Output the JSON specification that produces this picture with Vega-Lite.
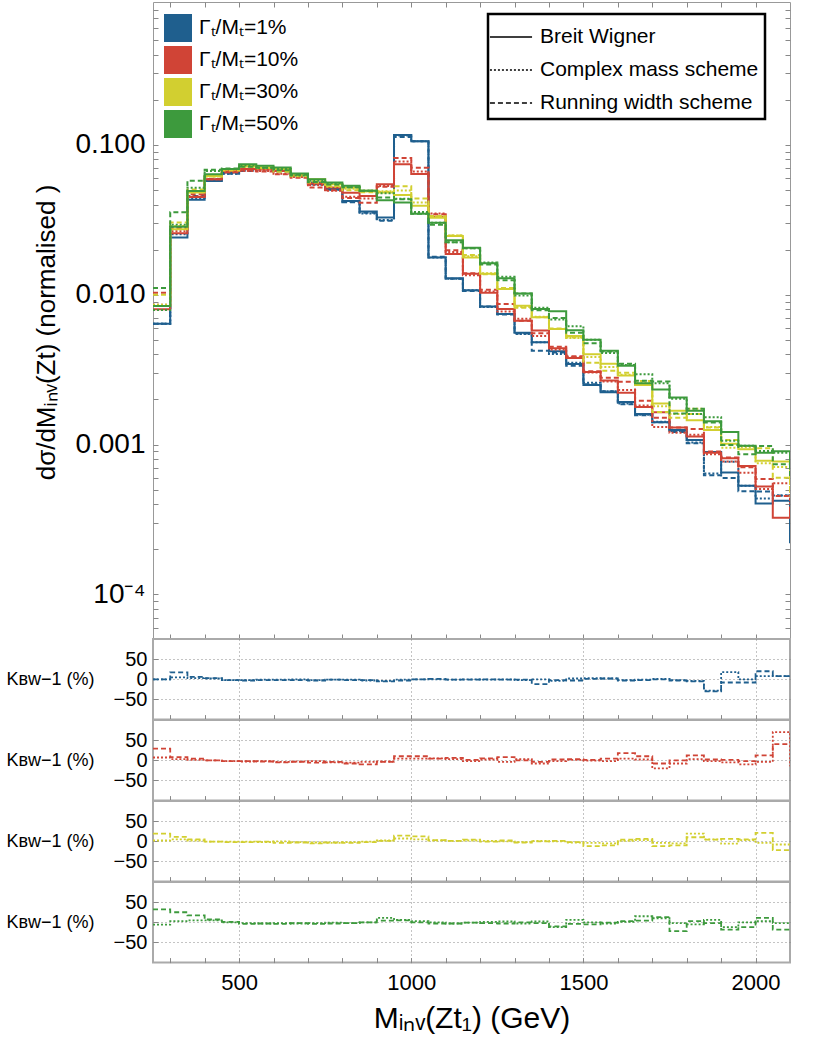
{
"$schema": "https://vega.github.io/schema/vega-lite/v6.json",
"padding": {"left": 5, "top": 1, "right": 5, "bottom": 5},
"background": "white",
"bounds": "flush",
"config": {
  "font": "Liberation Sans",
  "view": {"stroke": "#999999", "strokeWidth": 1},
  "axis": {"labelFont": "Liberation Sans", "titleFont": "Liberation Sans", "titleFontWeight": "normal", "labelColor": "black", "titleColor": "black", "tickColor": "#888888", "domain": false, "labelOverlap": false, "labelBound": false, "labelFlush": false},
  "legend": {"labelFont": "Liberation Sans", "labelColor": "black", "labelLimit": 400}
},
"resolve": {"legend": {"color": "independent", "strokeDash": "independent"}},
"spacing": 0,
"datasets": {
"main": [
{"w":"1%","s":"BW","x":250,"y":0.0064},{"w":"1%","s":"BW","x":300,"y":0.0241},{"w":"1%","s":"BW","x":350,"y":0.043},{"w":"1%","s":"BW","x":400,"y":0.0575},{"w":"1%","s":"BW","x":450,"y":0.0654},{"w":"1%","s":"BW","x":500,"y":0.069},{"w":"1%","s":"BW","x":550,"y":0.070},{"w":"1%","s":"BW","x":600,"y":0.0678},{"w":"1%","s":"BW","x":650,"y":0.0637},{"w":"1%","s":"BW","x":700,"y":0.0561},{"w":"1%","s":"BW","x":750,"y":0.0507},{"w":"1%","s":"BW","x":800,"y":0.0423},{"w":"1%","s":"BW","x":850,"y":0.036},{"w":"1%","s":"BW","x":900,"y":0.0328},{"w":"1%","s":"BW","x":950,"y":0.1166},{"w":"1%","s":"BW","x":1000,"y":0.106},{"w":"1%","s":"BW","x":1050,"y":0.0177},{"w":"1%","s":"BW","x":1100,"y":0.0129},{"w":"1%","s":"BW","x":1150,"y":0.0107},{"w":"1%","s":"BW","x":1200,"y":0.00836},{"w":"1%","s":"BW","x":1250,"y":0.00744},{"w":"1%","s":"BW","x":1300,"y":0.00558},{"w":"1%","s":"BW","x":1350,"y":0.00481},{"w":"1%","s":"BW","x":1400,"y":0.00419},{"w":"1%","s":"BW","x":1450,"y":0.00345},{"w":"1%","s":"BW","x":1500,"y":0.0025},{"w":"1%","s":"BW","x":1550,"y":0.00223},{"w":"1%","s":"BW","x":1600,"y":0.00192},{"w":"1%","s":"BW","x":1650,"y":0.0016},{"w":"1%","s":"BW","x":1700,"y":0.00141},{"w":"1%","s":"BW","x":1750,"y":0.00125},{"w":"1%","s":"BW","x":1800,"y":0.00107},{"w":"1%","s":"BW","x":1850,"y":0.00089},{"w":"1%","s":"BW","x":1900,"y":0.00065},{"w":"1%","s":"BW","x":1950,"y":0.00053},{"w":"1%","s":"BW","x":2000,"y":0.000404},{"w":"1%","s":"BW","x":2050,"y":0.000422},{"w":"1%","s":"BW","x":2100,"y":0.000219},
{"w":"1%","s":"CMS","x":250,"y":0.0064},{"w":"1%","s":"CMS","x":300,"y":0.0253},{"w":"1%","s":"CMS","x":350,"y":0.0443},{"w":"1%","s":"CMS","x":400,"y":0.0587},{"w":"1%","s":"CMS","x":450,"y":0.0641},{"w":"1%","s":"CMS","x":500,"y":0.0676},{"w":"1%","s":"CMS","x":550,"y":0.0693},{"w":"1%","s":"CMS","x":600,"y":0.0671},{"w":"1%","s":"CMS","x":650,"y":0.0637},{"w":"1%","s":"CMS","x":700,"y":0.055},{"w":"1%","s":"CMS","x":750,"y":0.0502},{"w":"1%","s":"CMS","x":800,"y":0.0419},{"w":"1%","s":"CMS","x":850,"y":0.0349},{"w":"1%","s":"CMS","x":900,"y":0.0315},{"w":"1%","s":"CMS","x":950,"y":0.1154},{"w":"1%","s":"CMS","x":1000,"y":0.106},{"w":"1%","s":"CMS","x":1050,"y":0.0177},{"w":"1%","s":"CMS","x":1100,"y":0.0128},{"w":"1%","s":"CMS","x":1150,"y":0.0107},{"w":"1%","s":"CMS","x":1200,"y":0.00828},{"w":"1%","s":"CMS","x":1250,"y":0.00744},{"w":"1%","s":"CMS","x":1300,"y":0.00547},{"w":"1%","s":"CMS","x":1350,"y":0.00481},{"w":"1%","s":"CMS","x":1400,"y":0.00402},{"w":"1%","s":"CMS","x":1450,"y":0.00352},{"w":"1%","s":"CMS","x":1500,"y":0.00258},{"w":"1%","s":"CMS","x":1550,"y":0.00227},{"w":"1%","s":"CMS","x":1600,"y":0.00188},{"w":"1%","s":"CMS","x":1650,"y":0.00158},{"w":"1%","s":"CMS","x":1700,"y":0.00142},{"w":"1%","s":"CMS","x":1750,"y":0.00123},{"w":"1%","s":"CMS","x":1800,"y":0.00103},{"w":"1%","s":"CMS","x":1850,"y":0.00064},{"w":"1%","s":"CMS","x":1900,"y":0.000767},{"w":"1%","s":"CMS","x":1950,"y":0.00053},{"w":"1%","s":"CMS","x":2000,"y":0.000436},{"w":"1%","s":"CMS","x":2050,"y":0.000456},{"w":"1%","s":"CMS","x":2100,"y":0.000225},
{"w":"1%","s":"RW","x":250,"y":0.0064},{"w":"1%","s":"RW","x":300,"y":0.0282},{"w":"1%","s":"RW","x":350,"y":0.0456},{"w":"1%","s":"RW","x":400,"y":0.0592},{"w":"1%","s":"RW","x":450,"y":0.0641},{"w":"1%","s":"RW","x":500,"y":0.0669},{"w":"1%","s":"RW","x":550,"y":0.0686},{"w":"1%","s":"RW","x":600,"y":0.0664},{"w":"1%","s":"RW","x":650,"y":0.0624},{"w":"1%","s":"RW","x":700,"y":0.0544},{"w":"1%","s":"RW","x":750,"y":0.0502},{"w":"1%","s":"RW","x":800,"y":0.0415},{"w":"1%","s":"RW","x":850,"y":0.0353},{"w":"1%","s":"RW","x":900,"y":0.0312},{"w":"1%","s":"RW","x":950,"y":0.1131},{"w":"1%","s":"RW","x":1000,"y":0.106},{"w":"1%","s":"RW","x":1050,"y":0.0179},{"w":"1%","s":"RW","x":1100,"y":0.0128},{"w":"1%","s":"RW","x":1150,"y":0.0106},{"w":"1%","s":"RW","x":1200,"y":0.00836},{"w":"1%","s":"RW","x":1250,"y":0.00737},{"w":"1%","s":"RW","x":1300,"y":0.00552},{"w":"1%","s":"RW","x":1350,"y":0.00423},{"w":"1%","s":"RW","x":1400,"y":0.00411},{"w":"1%","s":"RW","x":1450,"y":0.00335},{"w":"1%","s":"RW","x":1500,"y":0.00253},{"w":"1%","s":"RW","x":1550,"y":0.00227},{"w":"1%","s":"RW","x":1600,"y":0.00186},{"w":"1%","s":"RW","x":1650,"y":0.00157},{"w":"1%","s":"RW","x":1700,"y":0.00141},{"w":"1%","s":"RW","x":1750,"y":0.00121},{"w":"1%","s":"RW","x":1800,"y":0.00102},{"w":"1%","s":"RW","x":1850,"y":0.000623},{"w":"1%","s":"RW","x":1900,"y":0.000598},{"w":"1%","s":"RW","x":1950,"y":0.000488},{"w":"1%","s":"RW","x":2000,"y":0.000485},{"w":"1%","s":"RW","x":2050,"y":0.000456},{"w":"1%","s":"RW","x":2100,"y":0.00023},
{"w":"10%","s":"BW","x":250,"y":0.008},{"w":"10%","s":"BW","x":300,"y":0.0257},{"w":"10%","s":"BW","x":350,"y":0.045},{"w":"10%","s":"BW","x":400,"y":0.059},{"w":"10%","s":"BW","x":450,"y":0.067},{"w":"10%","s":"BW","x":500,"y":0.069},{"w":"10%","s":"BW","x":550,"y":0.0685},{"w":"10%","s":"BW","x":600,"y":0.067},{"w":"10%","s":"BW","x":650,"y":0.063},{"w":"10%","s":"BW","x":700,"y":0.0552},{"w":"10%","s":"BW","x":750,"y":0.052},{"w":"10%","s":"BW","x":800,"y":0.048},{"w":"10%","s":"BW","x":850,"y":0.0457},{"w":"10%","s":"BW","x":900,"y":0.0547},{"w":"10%","s":"BW","x":950,"y":0.0744},{"w":"10%","s":"BW","x":1000,"y":0.064},{"w":"10%","s":"BW","x":1050,"y":0.0331},{"w":"10%","s":"BW","x":1100,"y":0.0187},{"w":"10%","s":"BW","x":1150,"y":0.0138},{"w":"10%","s":"BW","x":1200,"y":0.0103},{"w":"10%","s":"BW","x":1250,"y":0.00804},{"w":"10%","s":"BW","x":1300,"y":0.0067},{"w":"10%","s":"BW","x":1350,"y":0.00576},{"w":"10%","s":"BW","x":1400,"y":0.0044},{"w":"10%","s":"BW","x":1450,"y":0.00378},{"w":"10%","s":"BW","x":1500,"y":0.00305},{"w":"10%","s":"BW","x":1550,"y":0.00268},{"w":"10%","s":"BW","x":1600,"y":0.00222},{"w":"10%","s":"BW","x":1650,"y":0.00178},{"w":"10%","s":"BW","x":1700,"y":0.00164},{"w":"10%","s":"BW","x":1750,"y":0.0013},{"w":"10%","s":"BW","x":1800,"y":0.00113},{"w":"10%","s":"BW","x":1850,"y":0.00088},{"w":"10%","s":"BW","x":1900,"y":0.00081},{"w":"10%","s":"BW","x":1950,"y":0.00072},{"w":"10%","s":"BW","x":2000,"y":0.000525},{"w":"10%","s":"BW","x":2050,"y":0.000324},{"w":"10%","s":"BW","x":2100,"y":0.00038},
{"w":"10%","s":"CMS","x":250,"y":0.00856},{"w":"10%","s":"CMS","x":300,"y":0.0265},{"w":"10%","s":"CMS","x":350,"y":0.0455},{"w":"10%","s":"CMS","x":400,"y":0.059},{"w":"10%","s":"CMS","x":450,"y":0.0657},{"w":"10%","s":"CMS","x":500,"y":0.0669},{"w":"10%","s":"CMS","x":550,"y":0.0671},{"w":"10%","s":"CMS","x":600,"y":0.0643},{"w":"10%","s":"CMS","x":650,"y":0.0611},{"w":"10%","s":"CMS","x":700,"y":0.0541},{"w":"10%","s":"CMS","x":750,"y":0.0494},{"w":"10%","s":"CMS","x":800,"y":0.0451},{"w":"10%","s":"CMS","x":850,"y":0.0439},{"w":"10%","s":"CMS","x":900,"y":0.0531},{"w":"10%","s":"CMS","x":950,"y":0.0774},{"w":"10%","s":"CMS","x":1000,"y":0.0666},{"w":"10%","s":"CMS","x":1050,"y":0.0348},{"w":"10%","s":"CMS","x":1100,"y":0.0193},{"w":"10%","s":"CMS","x":1150,"y":0.0135},{"w":"10%","s":"CMS","x":1200,"y":0.0105},{"w":"10%","s":"CMS","x":1250,"y":0.00772},{"w":"10%","s":"CMS","x":1300,"y":0.0069},{"w":"10%","s":"CMS","x":1350,"y":0.0053},{"w":"10%","s":"CMS","x":1400,"y":0.00431},{"w":"10%","s":"CMS","x":1450,"y":0.00382},{"w":"10%","s":"CMS","x":1500,"y":0.00302},{"w":"10%","s":"CMS","x":1550,"y":0.00263},{"w":"10%","s":"CMS","x":1600,"y":0.00231},{"w":"10%","s":"CMS","x":1650,"y":0.00182},{"w":"10%","s":"CMS","x":1700,"y":0.00131},{"w":"10%","s":"CMS","x":1750,"y":0.0012},{"w":"10%","s":"CMS","x":1800,"y":0.00116},{"w":"10%","s":"CMS","x":1850,"y":0.000862},{"w":"10%","s":"CMS","x":1900,"y":0.00077},{"w":"10%","s":"CMS","x":1950,"y":0.000648},{"w":"10%","s":"CMS","x":2000,"y":0.000504},{"w":"10%","s":"CMS","x":2050,"y":0.000551},{"w":"10%","s":"CMS","x":2100,"y":0.00032},
{"w":"10%","s":"RW","x":250,"y":0.01032},{"w":"10%","s":"RW","x":300,"y":0.0278},{"w":"10%","s":"RW","x":350,"y":0.0468},{"w":"10%","s":"RW","x":400,"y":0.059},{"w":"10%","s":"RW","x":450,"y":0.0657},{"w":"10%","s":"RW","x":500,"y":0.0676},{"w":"10%","s":"RW","x":550,"y":0.0664},{"w":"10%","s":"RW","x":600,"y":0.0637},{"w":"10%","s":"RW","x":650,"y":0.0605},{"w":"10%","s":"RW","x":700,"y":0.0519},{"w":"10%","s":"RW","x":750,"y":0.0499},{"w":"10%","s":"RW","x":800,"y":0.0442},{"w":"10%","s":"RW","x":850,"y":0.0411},{"w":"10%","s":"RW","x":900,"y":0.0525},{"w":"10%","s":"RW","x":950,"y":0.0818},{"w":"10%","s":"RW","x":1000,"y":0.0704},{"w":"10%","s":"RW","x":1050,"y":0.0344},{"w":"10%","s":"RW","x":1100,"y":0.0198},{"w":"10%","s":"RW","x":1150,"y":0.0139},{"w":"10%","s":"RW","x":1200,"y":0.0108},{"w":"10%","s":"RW","x":1250,"y":0.00868},{"w":"10%","s":"RW","x":1300,"y":0.0067},{"w":"10%","s":"RW","x":1350,"y":0.00553},{"w":"10%","s":"RW","x":1400,"y":0.00449},{"w":"10%","s":"RW","x":1450,"y":0.00389},{"w":"10%","s":"RW","x":1500,"y":0.00308},{"w":"10%","s":"RW","x":1550,"y":0.00279},{"w":"10%","s":"RW","x":1600,"y":0.00262},{"w":"10%","s":"RW","x":1650,"y":0.00196},{"w":"10%","s":"RW","x":1700,"y":0.00151},{"w":"10%","s":"RW","x":1750,"y":0.0013},{"w":"10%","s":"RW","x":1800,"y":0.00127},{"w":"10%","s":"RW","x":1850,"y":0.000898},{"w":"10%","s":"RW","x":1900,"y":0.000818},{"w":"10%","s":"RW","x":1950,"y":0.000706},{"w":"10%","s":"RW","x":2000,"y":0.000588},{"w":"10%","s":"RW","x":2050,"y":0.000454},{"w":"10%","s":"RW","x":2100,"y":0.00042},
{"w":"30%","s":"BW","x":250,"y":0.0084},{"w":"30%","s":"BW","x":300,"y":0.0274},{"w":"30%","s":"BW","x":350,"y":0.0481},{"w":"30%","s":"BW","x":400,"y":0.0621},{"w":"30%","s":"BW","x":450,"y":0.069},{"w":"30%","s":"BW","x":500,"y":0.0725},{"w":"30%","s":"BW","x":550,"y":0.071},{"w":"30%","s":"BW","x":600,"y":0.069},{"w":"30%","s":"BW","x":650,"y":0.0637},{"w":"30%","s":"BW","x":700,"y":0.059},{"w":"30%","s":"BW","x":750,"y":0.0547},{"w":"30%","s":"BW","x":800,"y":0.052},{"w":"30%","s":"BW","x":850,"y":0.0494},{"w":"30%","s":"BW","x":900,"y":0.0481},{"w":"30%","s":"BW","x":950,"y":0.0464},{"w":"30%","s":"BW","x":1000,"y":0.0392},{"w":"30%","s":"BW","x":1050,"y":0.0326},{"w":"30%","s":"BW","x":1100,"y":0.0247},{"w":"30%","s":"BW","x":1150,"y":0.0177},{"w":"30%","s":"BW","x":1200,"y":0.0138},{"w":"30%","s":"BW","x":1250,"y":0.0109},{"w":"30%","s":"BW","x":1300,"y":0.00844},{"w":"30%","s":"BW","x":1350,"y":0.00706},{"w":"30%","s":"BW","x":1400,"y":0.0059},{"w":"30%","s":"BW","x":1450,"y":0.0053},{"w":"30%","s":"BW","x":1500,"y":0.004},{"w":"30%","s":"BW","x":1550,"y":0.00346},{"w":"30%","s":"BW","x":1600,"y":0.00289},{"w":"30%","s":"BW","x":1650,"y":0.0025},{"w":"30%","s":"BW","x":1700,"y":0.00188},{"w":"30%","s":"BW","x":1750,"y":0.00168},{"w":"30%","s":"BW","x":1800,"y":0.00145},{"w":"30%","s":"BW","x":1850,"y":0.00125},{"w":"30%","s":"BW","x":1900,"y":0.00101},{"w":"30%","s":"BW","x":1950,"y":0.00093},{"w":"30%","s":"BW","x":2000,"y":0.00078},{"w":"30%","s":"BW","x":2050,"y":0.00077},{"w":"30%","s":"BW","x":2100,"y":0.00054},
{"w":"30%","s":"CMS","x":250,"y":0.00857},{"w":"30%","s":"CMS","x":300,"y":0.0288},{"w":"30%","s":"CMS","x":350,"y":0.0491},{"w":"30%","s":"CMS","x":400,"y":0.0615},{"w":"30%","s":"CMS","x":450,"y":0.0683},{"w":"30%","s":"CMS","x":500,"y":0.0718},{"w":"30%","s":"CMS","x":550,"y":0.0696},{"w":"30%","s":"CMS","x":600,"y":0.069},{"w":"30%","s":"CMS","x":650,"y":0.0624},{"w":"30%","s":"CMS","x":700,"y":0.0572},{"w":"30%","s":"CMS","x":750,"y":0.0525},{"w":"30%","s":"CMS","x":800,"y":0.051},{"w":"30%","s":"CMS","x":850,"y":0.0489},{"w":"30%","s":"CMS","x":900,"y":0.0491},{"w":"30%","s":"CMS","x":950,"y":0.0496},{"w":"30%","s":"CMS","x":1000,"y":0.0412},{"w":"30%","s":"CMS","x":1050,"y":0.0333},{"w":"30%","s":"CMS","x":1100,"y":0.0249},{"w":"30%","s":"CMS","x":1150,"y":0.0181},{"w":"30%","s":"CMS","x":1200,"y":0.0139},{"w":"30%","s":"CMS","x":1250,"y":0.0109},{"w":"30%","s":"CMS","x":1300,"y":0.00827},{"w":"30%","s":"CMS","x":1350,"y":0.00713},{"w":"30%","s":"CMS","x":1400,"y":0.0059},{"w":"30%","s":"CMS","x":1450,"y":0.00514},{"w":"30%","s":"CMS","x":1500,"y":0.00384},{"w":"30%","s":"CMS","x":1550,"y":0.00329},{"w":"30%","s":"CMS","x":1600,"y":0.00292},{"w":"30%","s":"CMS","x":1650,"y":0.00258},{"w":"30%","s":"CMS","x":1700,"y":0.0018},{"w":"30%","s":"CMS","x":1750,"y":0.0016},{"w":"30%","s":"CMS","x":1800,"y":0.00173},{"w":"30%","s":"CMS","x":1850,"y":0.00131},{"w":"30%","s":"CMS","x":1900,"y":0.00095},{"w":"30%","s":"CMS","x":1950,"y":0.000958},{"w":"30%","s":"CMS","x":2000,"y":0.000749},{"w":"30%","s":"CMS","x":2050,"y":0.000708},{"w":"30%","s":"CMS","x":2100,"y":0.0005},
{"w":"30%","s":"RW","x":250,"y":0.01},{"w":"30%","s":"RW","x":300,"y":0.0304},{"w":"30%","s":"RW","x":350,"y":0.0505},{"w":"30%","s":"RW","x":400,"y":0.0615},{"w":"30%","s":"RW","x":450,"y":0.0676},{"w":"30%","s":"RW","x":500,"y":0.0711},{"w":"30%","s":"RW","x":550,"y":0.0703},{"w":"30%","s":"RW","x":600,"y":0.0662},{"w":"30%","s":"RW","x":650,"y":0.0618},{"w":"30%","s":"RW","x":700,"y":0.0561},{"w":"30%","s":"RW","x":750,"y":0.0531},{"w":"30%","s":"RW","x":800,"y":0.0499},{"w":"30%","s":"RW","x":850,"y":0.0484},{"w":"30%","s":"RW","x":900,"y":0.0486},{"w":"30%","s":"RW","x":950,"y":0.0529},{"w":"30%","s":"RW","x":1000,"y":0.0439},{"w":"30%","s":"RW","x":1050,"y":0.0336},{"w":"30%","s":"RW","x":1100,"y":0.0249},{"w":"30%","s":"RW","x":1150,"y":0.0184},{"w":"30%","s":"RW","x":1200,"y":0.0137},{"w":"30%","s":"RW","x":1250,"y":0.0111},{"w":"30%","s":"RW","x":1300,"y":0.00819},{"w":"30%","s":"RW","x":1350,"y":0.00706},{"w":"30%","s":"RW","x":1400,"y":0.00596},{"w":"30%","s":"RW","x":1450,"y":0.00519},{"w":"30%","s":"RW","x":1500,"y":0.00352},{"w":"30%","s":"RW","x":1550,"y":0.00311},{"w":"30%","s":"RW","x":1600,"y":0.00301},{"w":"30%","s":"RW","x":1650,"y":0.00265},{"w":"30%","s":"RW","x":1700,"y":0.00165},{"w":"30%","s":"RW","x":1750,"y":0.00151},{"w":"30%","s":"RW","x":1800,"y":0.0016},{"w":"30%","s":"RW","x":1850,"y":0.0013},{"w":"30%","s":"RW","x":1900,"y":0.00107},{"w":"30%","s":"RW","x":1950,"y":0.000977},{"w":"30%","s":"RW","x":2000,"y":0.000944},{"w":"30%","s":"RW","x":2050,"y":0.000601},{"w":"30%","s":"RW","x":2100,"y":0.00045},
{"w":"50%","s":"BW","x":250,"y":0.0084},{"w":"50%","s":"BW","x":300,"y":0.0284},{"w":"50%","s":"BW","x":350,"y":0.0493},{"w":"50%","s":"BW","x":400,"y":0.0637},{"w":"50%","s":"BW","x":450,"y":0.069},{"w":"50%","s":"BW","x":500,"y":0.0744},{"w":"50%","s":"BW","x":550,"y":0.0725},{"w":"50%","s":"BW","x":600,"y":0.0706},{"w":"50%","s":"BW","x":650,"y":0.0645},{"w":"50%","s":"BW","x":700,"y":0.059},{"w":"50%","s":"BW","x":750,"y":0.0561},{"w":"50%","s":"BW","x":800,"y":0.0533},{"w":"50%","s":"BW","x":850,"y":0.0494},{"w":"50%","s":"BW","x":900,"y":0.0428},{"w":"50%","s":"BW","x":950,"y":0.0413},{"w":"50%","s":"BW","x":1000,"y":0.0347},{"w":"50%","s":"BW","x":1050,"y":0.0302},{"w":"50%","s":"BW","x":1100,"y":0.0231},{"w":"50%","s":"BW","x":1150,"y":0.0206},{"w":"50%","s":"BW","x":1200,"y":0.0162},{"w":"50%","s":"BW","x":1250,"y":0.0129},{"w":"50%","s":"BW","x":1300,"y":0.0102},{"w":"50%","s":"BW","x":1350,"y":0.00804},{"w":"50%","s":"BW","x":1400,"y":0.00775},{"w":"50%","s":"BW","x":1450,"y":0.0058},{"w":"50%","s":"BW","x":1500,"y":0.005},{"w":"50%","s":"BW","x":1550,"y":0.00422},{"w":"50%","s":"BW","x":1600,"y":0.00336},{"w":"50%","s":"BW","x":1650,"y":0.00256},{"w":"50%","s":"BW","x":1700,"y":0.00233},{"w":"50%","s":"BW","x":1750,"y":0.00206},{"w":"50%","s":"BW","x":1800,"y":0.00168},{"w":"50%","s":"BW","x":1850,"y":0.00143},{"w":"50%","s":"BW","x":1900,"y":0.00121},{"w":"50%","s":"BW","x":1950,"y":0.00098},{"w":"50%","s":"BW","x":2000,"y":0.00088},{"w":"50%","s":"BW","x":2050,"y":0.0009},{"w":"50%","s":"BW","x":2100,"y":0.0007},
{"w":"50%","s":"CMS","x":250,"y":0.0079},{"w":"50%","s":"CMS","x":300,"y":0.0293},{"w":"50%","s":"CMS","x":350,"y":0.0518},{"w":"50%","s":"CMS","x":400,"y":0.0669},{"w":"50%","s":"CMS","x":450,"y":0.069},{"w":"50%","s":"CMS","x":500,"y":0.0729},{"w":"50%","s":"CMS","x":550,"y":0.0703},{"w":"50%","s":"CMS","x":600,"y":0.0692},{"w":"50%","s":"CMS","x":650,"y":0.0626},{"w":"50%","s":"CMS","x":700,"y":0.0578},{"w":"50%","s":"CMS","x":750,"y":0.0555},{"w":"50%","s":"CMS","x":800,"y":0.0522},{"w":"50%","s":"CMS","x":850,"y":0.0494},{"w":"50%","s":"CMS","x":900,"y":0.0475},{"w":"50%","s":"CMS","x":950,"y":0.0438},{"w":"50%","s":"CMS","x":1000,"y":0.0357},{"w":"50%","s":"CMS","x":1050,"y":0.0302},{"w":"50%","s":"CMS","x":1100,"y":0.0224},{"w":"50%","s":"CMS","x":1150,"y":0.0204},{"w":"50%","s":"CMS","x":1200,"y":0.0164},{"w":"50%","s":"CMS","x":1250,"y":0.0132},{"w":"50%","s":"CMS","x":1300,"y":0.00989},{"w":"50%","s":"CMS","x":1350,"y":0.0082},{"w":"50%","s":"CMS","x":1400,"y":0.00682},{"w":"50%","s":"CMS","x":1450,"y":0.00615},{"w":"50%","s":"CMS","x":1500,"y":0.005},{"w":"50%","s":"CMS","x":1550,"y":0.00409},{"w":"50%","s":"CMS","x":1600,"y":0.00339},{"w":"50%","s":"CMS","x":1650,"y":0.00294},{"w":"50%","s":"CMS","x":1700,"y":0.00256},{"w":"50%","s":"CMS","x":1750,"y":0.00202},{"w":"50%","s":"CMS","x":1800,"y":0.0016},{"w":"50%","s":"CMS","x":1850,"y":0.00152},{"w":"50%","s":"CMS","x":1900,"y":0.00106},{"w":"50%","s":"CMS","x":1950,"y":0.00098},{"w":"50%","s":"CMS","x":2000,"y":0.000906},{"w":"50%","s":"CMS","x":2050,"y":0.000882},{"w":"50%","s":"CMS","x":2100,"y":0.00068},
{"w":"50%","s":"RW","x":250,"y":0.0111},{"w":"50%","s":"RW","x":300,"y":0.0355},{"w":"50%","s":"RW","x":350,"y":0.0577},{"w":"50%","s":"RW","x":400,"y":0.0682},{"w":"50%","s":"RW","x":450,"y":0.0697},{"w":"50%","s":"RW","x":500,"y":0.0714},{"w":"50%","s":"RW","x":550,"y":0.0703},{"w":"50%","s":"RW","x":600,"y":0.0678},{"w":"50%","s":"RW","x":650,"y":0.0632},{"w":"50%","s":"RW","x":700,"y":0.0566},{"w":"50%","s":"RW","x":750,"y":0.0544},{"w":"50%","s":"RW","x":800,"y":0.0522},{"w":"50%","s":"RW","x":850,"y":0.0494},{"w":"50%","s":"RW","x":900,"y":0.0445},{"w":"50%","s":"RW","x":950,"y":0.0434},{"w":"50%","s":"RW","x":1000,"y":0.0347},{"w":"50%","s":"RW","x":1050,"y":0.0293},{"w":"50%","s":"RW","x":1100,"y":0.0224},{"w":"50%","s":"RW","x":1150,"y":0.0204},{"w":"50%","s":"RW","x":1200,"y":0.0159},{"w":"50%","s":"RW","x":1250,"y":0.0125},{"w":"50%","s":"RW","x":1300,"y":0.0102},{"w":"50%","s":"RW","x":1350,"y":0.00788},{"w":"50%","s":"RW","x":1400,"y":0.00698},{"w":"50%","s":"RW","x":1450,"y":0.00557},{"w":"50%","s":"RW","x":1500,"y":0.00475},{"w":"50%","s":"RW","x":1550,"y":0.00418},{"w":"50%","s":"RW","x":1600,"y":0.00346},{"w":"50%","s":"RW","x":1650,"y":0.00266},{"w":"50%","s":"RW","x":1700,"y":0.00263},{"w":"50%","s":"RW","x":1750,"y":0.00161},{"w":"50%","s":"RW","x":1800,"y":0.00173},{"w":"50%","s":"RW","x":1850,"y":0.0014},{"w":"50%","s":"RW","x":1900,"y":0.000992},{"w":"50%","s":"RW","x":1950,"y":0.000862},{"w":"50%","s":"RW","x":2000,"y":0.000977},{"w":"50%","s":"RW","x":2050,"y":0.000738},{"w":"50%","s":"RW","x":2100,"y":0.0006}
],
"ratio": [
{"w":"1%","s":"CMS","x":250,"r":0},{"w":"1%","s":"CMS","x":300,"r":5},{"w":"1%","s":"CMS","x":350,"r":3},{"w":"1%","s":"CMS","x":400,"r":2},{"w":"1%","s":"CMS","x":450,"r":-2},{"w":"1%","s":"CMS","x":500,"r":-2},{"w":"1%","s":"CMS","x":550,"r":-1},{"w":"1%","s":"CMS","x":600,"r":-1},{"w":"1%","s":"CMS","x":650,"r":0},{"w":"1%","s":"CMS","x":700,"r":-2},{"w":"1%","s":"CMS","x":750,"r":-1},{"w":"1%","s":"CMS","x":800,"r":-1},{"w":"1%","s":"CMS","x":850,"r":-3},{"w":"1%","s":"CMS","x":900,"r":-4},{"w":"1%","s":"CMS","x":950,"r":-1},{"w":"1%","s":"CMS","x":1000,"r":0},{"w":"1%","s":"CMS","x":1050,"r":0},{"w":"1%","s":"CMS","x":1100,"r":-1},{"w":"1%","s":"CMS","x":1150,"r":0},{"w":"1%","s":"CMS","x":1200,"r":-1},{"w":"1%","s":"CMS","x":1250,"r":0},{"w":"1%","s":"CMS","x":1300,"r":-2},{"w":"1%","s":"CMS","x":1350,"r":0},{"w":"1%","s":"CMS","x":1400,"r":-4},{"w":"1%","s":"CMS","x":1450,"r":2},{"w":"1%","s":"CMS","x":1500,"r":3},{"w":"1%","s":"CMS","x":1550,"r":2},{"w":"1%","s":"CMS","x":1600,"r":-2},{"w":"1%","s":"CMS","x":1650,"r":-1},{"w":"1%","s":"CMS","x":1700,"r":1},{"w":"1%","s":"CMS","x":1750,"r":-2},{"w":"1%","s":"CMS","x":1800,"r":-4},{"w":"1%","s":"CMS","x":1850,"r":-28},{"w":"1%","s":"CMS","x":1900,"r":18},{"w":"1%","s":"CMS","x":1950,"r":0},{"w":"1%","s":"CMS","x":2000,"r":8},{"w":"1%","s":"CMS","x":2050,"r":8},{"w":"1%","s":"CMS","x":2100,"r":8},
{"w":"1%","s":"RW","x":250,"r":0},{"w":"1%","s":"RW","x":300,"r":17},{"w":"1%","s":"RW","x":350,"r":6},{"w":"1%","s":"RW","x":400,"r":3},{"w":"1%","s":"RW","x":450,"r":-2},{"w":"1%","s":"RW","x":500,"r":-3},{"w":"1%","s":"RW","x":550,"r":-2},{"w":"1%","s":"RW","x":600,"r":-2},{"w":"1%","s":"RW","x":650,"r":-2},{"w":"1%","s":"RW","x":700,"r":-3},{"w":"1%","s":"RW","x":750,"r":-1},{"w":"1%","s":"RW","x":800,"r":-2},{"w":"1%","s":"RW","x":850,"r":-2},{"w":"1%","s":"RW","x":900,"r":-5},{"w":"1%","s":"RW","x":950,"r":-3},{"w":"1%","s":"RW","x":1000,"r":0},{"w":"1%","s":"RW","x":1050,"r":1},{"w":"1%","s":"RW","x":1100,"r":-1},{"w":"1%","s":"RW","x":1150,"r":-1},{"w":"1%","s":"RW","x":1200,"r":0},{"w":"1%","s":"RW","x":1250,"r":-1},{"w":"1%","s":"RW","x":1300,"r":-1},{"w":"1%","s":"RW","x":1350,"r":-12},{"w":"1%","s":"RW","x":1400,"r":-2},{"w":"1%","s":"RW","x":1450,"r":-3},{"w":"1%","s":"RW","x":1500,"r":1},{"w":"1%","s":"RW","x":1550,"r":2},{"w":"1%","s":"RW","x":1600,"r":-3},{"w":"1%","s":"RW","x":1650,"r":-2},{"w":"1%","s":"RW","x":1700,"r":0},{"w":"1%","s":"RW","x":1750,"r":-3},{"w":"1%","s":"RW","x":1800,"r":-5},{"w":"1%","s":"RW","x":1850,"r":-30},{"w":"1%","s":"RW","x":1900,"r":-8},{"w":"1%","s":"RW","x":1950,"r":-8},{"w":"1%","s":"RW","x":2000,"r":20},{"w":"1%","s":"RW","x":2050,"r":8},{"w":"1%","s":"RW","x":2100,"r":8},
{"w":"10%","s":"CMS","x":250,"r":7},{"w":"10%","s":"CMS","x":300,"r":3},{"w":"10%","s":"CMS","x":350,"r":1},{"w":"10%","s":"CMS","x":400,"r":0},{"w":"10%","s":"CMS","x":450,"r":-2},{"w":"10%","s":"CMS","x":500,"r":-3},{"w":"10%","s":"CMS","x":550,"r":-2},{"w":"10%","s":"CMS","x":600,"r":-4},{"w":"10%","s":"CMS","x":650,"r":-3},{"w":"10%","s":"CMS","x":700,"r":-2},{"w":"10%","s":"CMS","x":750,"r":-5},{"w":"10%","s":"CMS","x":800,"r":-6},{"w":"10%","s":"CMS","x":850,"r":-4},{"w":"10%","s":"CMS","x":900,"r":-3},{"w":"10%","s":"CMS","x":950,"r":4},{"w":"10%","s":"CMS","x":1000,"r":4},{"w":"10%","s":"CMS","x":1050,"r":5},{"w":"10%","s":"CMS","x":1100,"r":3},{"w":"10%","s":"CMS","x":1150,"r":-2},{"w":"10%","s":"CMS","x":1200,"r":2},{"w":"10%","s":"CMS","x":1250,"r":-4},{"w":"10%","s":"CMS","x":1300,"r":3},{"w":"10%","s":"CMS","x":1350,"r":-8},{"w":"10%","s":"CMS","x":1400,"r":-2},{"w":"10%","s":"CMS","x":1450,"r":1},{"w":"10%","s":"CMS","x":1500,"r":-1},{"w":"10%","s":"CMS","x":1550,"r":-2},{"w":"10%","s":"CMS","x":1600,"r":4},{"w":"10%","s":"CMS","x":1650,"r":2},{"w":"10%","s":"CMS","x":1700,"r":-20},{"w":"10%","s":"CMS","x":1750,"r":-8},{"w":"10%","s":"CMS","x":1800,"r":3},{"w":"10%","s":"CMS","x":1850,"r":-2},{"w":"10%","s":"CMS","x":1900,"r":-5},{"w":"10%","s":"CMS","x":1950,"r":-10},{"w":"10%","s":"CMS","x":2000,"r":-4},{"w":"10%","s":"CMS","x":2050,"r":70},{"w":"10%","s":"CMS","x":2100,"r":-15},
{"w":"10%","s":"RW","x":250,"r":29},{"w":"10%","s":"RW","x":300,"r":8},{"w":"10%","s":"RW","x":350,"r":4},{"w":"10%","s":"RW","x":400,"r":0},{"w":"10%","s":"RW","x":450,"r":-2},{"w":"10%","s":"RW","x":500,"r":-2},{"w":"10%","s":"RW","x":550,"r":-3},{"w":"10%","s":"RW","x":600,"r":-5},{"w":"10%","s":"RW","x":650,"r":-4},{"w":"10%","s":"RW","x":700,"r":-6},{"w":"10%","s":"RW","x":750,"r":-4},{"w":"10%","s":"RW","x":800,"r":-8},{"w":"10%","s":"RW","x":850,"r":-10},{"w":"10%","s":"RW","x":900,"r":-4},{"w":"10%","s":"RW","x":950,"r":10},{"w":"10%","s":"RW","x":1000,"r":10},{"w":"10%","s":"RW","x":1050,"r":4},{"w":"10%","s":"RW","x":1100,"r":6},{"w":"10%","s":"RW","x":1150,"r":1},{"w":"10%","s":"RW","x":1200,"r":5},{"w":"10%","s":"RW","x":1250,"r":8},{"w":"10%","s":"RW","x":1300,"r":0},{"w":"10%","s":"RW","x":1350,"r":-4},{"w":"10%","s":"RW","x":1400,"r":2},{"w":"10%","s":"RW","x":1450,"r":3},{"w":"10%","s":"RW","x":1500,"r":1},{"w":"10%","s":"RW","x":1550,"r":4},{"w":"10%","s":"RW","x":1600,"r":18},{"w":"10%","s":"RW","x":1650,"r":10},{"w":"10%","s":"RW","x":1700,"r":-8},{"w":"10%","s":"RW","x":1750,"r":0},{"w":"10%","s":"RW","x":1800,"r":12},{"w":"10%","s":"RW","x":1850,"r":2},{"w":"10%","s":"RW","x":1900,"r":1},{"w":"10%","s":"RW","x":1950,"r":-2},{"w":"10%","s":"RW","x":2000,"r":12},{"w":"10%","s":"RW","x":2050,"r":40},{"w":"10%","s":"RW","x":2100,"r":40},
{"w":"30%","s":"CMS","x":250,"r":2},{"w":"30%","s":"CMS","x":300,"r":5},{"w":"30%","s":"CMS","x":350,"r":2},{"w":"30%","s":"CMS","x":400,"r":-1},{"w":"30%","s":"CMS","x":450,"r":-1},{"w":"30%","s":"CMS","x":500,"r":-1},{"w":"30%","s":"CMS","x":550,"r":-2},{"w":"30%","s":"CMS","x":600,"r":0},{"w":"30%","s":"CMS","x":650,"r":-2},{"w":"30%","s":"CMS","x":700,"r":-3},{"w":"30%","s":"CMS","x":750,"r":-4},{"w":"30%","s":"CMS","x":800,"r":-2},{"w":"30%","s":"CMS","x":850,"r":-1},{"w":"30%","s":"CMS","x":900,"r":2},{"w":"30%","s":"CMS","x":950,"r":7},{"w":"30%","s":"CMS","x":1000,"r":5},{"w":"30%","s":"CMS","x":1050,"r":2},{"w":"30%","s":"CMS","x":1100,"r":1},{"w":"30%","s":"CMS","x":1150,"r":2},{"w":"30%","s":"CMS","x":1200,"r":1},{"w":"30%","s":"CMS","x":1250,"r":0},{"w":"30%","s":"CMS","x":1300,"r":-2},{"w":"30%","s":"CMS","x":1350,"r":1},{"w":"30%","s":"CMS","x":1400,"r":0},{"w":"30%","s":"CMS","x":1450,"r":-3},{"w":"30%","s":"CMS","x":1500,"r":-4},{"w":"30%","s":"CMS","x":1550,"r":-5},{"w":"30%","s":"CMS","x":1600,"r":1},{"w":"30%","s":"CMS","x":1650,"r":3},{"w":"30%","s":"CMS","x":1700,"r":-4},{"w":"30%","s":"CMS","x":1750,"r":-5},{"w":"30%","s":"CMS","x":1800,"r":19},{"w":"30%","s":"CMS","x":1850,"r":5},{"w":"30%","s":"CMS","x":1900,"r":-6},{"w":"30%","s":"CMS","x":1950,"r":3},{"w":"30%","s":"CMS","x":2000,"r":-4},{"w":"30%","s":"CMS","x":2050,"r":-8},{"w":"30%","s":"CMS","x":2100,"r":-8},
{"w":"30%","s":"RW","x":250,"r":19},{"w":"30%","s":"RW","x":300,"r":11},{"w":"30%","s":"RW","x":350,"r":5},{"w":"30%","s":"RW","x":400,"r":-1},{"w":"30%","s":"RW","x":450,"r":-2},{"w":"30%","s":"RW","x":500,"r":-2},{"w":"30%","s":"RW","x":550,"r":-1},{"w":"30%","s":"RW","x":600,"r":-4},{"w":"30%","s":"RW","x":650,"r":-3},{"w":"30%","s":"RW","x":700,"r":-5},{"w":"30%","s":"RW","x":750,"r":-3},{"w":"30%","s":"RW","x":800,"r":-4},{"w":"30%","s":"RW","x":850,"r":-2},{"w":"30%","s":"RW","x":900,"r":1},{"w":"30%","s":"RW","x":950,"r":14},{"w":"30%","s":"RW","x":1000,"r":12},{"w":"30%","s":"RW","x":1050,"r":3},{"w":"30%","s":"RW","x":1100,"r":1},{"w":"30%","s":"RW","x":1150,"r":4},{"w":"30%","s":"RW","x":1200,"r":-1},{"w":"30%","s":"RW","x":1250,"r":2},{"w":"30%","s":"RW","x":1300,"r":-3},{"w":"30%","s":"RW","x":1350,"r":0},{"w":"30%","s":"RW","x":1400,"r":1},{"w":"30%","s":"RW","x":1450,"r":-2},{"w":"30%","s":"RW","x":1500,"r":-12},{"w":"30%","s":"RW","x":1550,"r":-10},{"w":"30%","s":"RW","x":1600,"r":4},{"w":"30%","s":"RW","x":1650,"r":6},{"w":"30%","s":"RW","x":1700,"r":-12},{"w":"30%","s":"RW","x":1750,"r":-10},{"w":"30%","s":"RW","x":1800,"r":10},{"w":"30%","s":"RW","x":1850,"r":4},{"w":"30%","s":"RW","x":1900,"r":6},{"w":"30%","s":"RW","x":1950,"r":5},{"w":"30%","s":"RW","x":2000,"r":21},{"w":"30%","s":"RW","x":2050,"r":-22},{"w":"30%","s":"RW","x":2100,"r":-22},
{"w":"50%","s":"CMS","x":250,"r":-6},{"w":"50%","s":"CMS","x":300,"r":3},{"w":"50%","s":"CMS","x":350,"r":5},{"w":"50%","s":"CMS","x":400,"r":5},{"w":"50%","s":"CMS","x":450,"r":0},{"w":"50%","s":"CMS","x":500,"r":-2},{"w":"50%","s":"CMS","x":550,"r":-3},{"w":"50%","s":"CMS","x":600,"r":-2},{"w":"50%","s":"CMS","x":650,"r":-3},{"w":"50%","s":"CMS","x":700,"r":-2},{"w":"50%","s":"CMS","x":750,"r":-1},{"w":"50%","s":"CMS","x":800,"r":-2},{"w":"50%","s":"CMS","x":850,"r":0},{"w":"50%","s":"CMS","x":900,"r":11},{"w":"50%","s":"CMS","x":950,"r":6},{"w":"50%","s":"CMS","x":1000,"r":3},{"w":"50%","s":"CMS","x":1050,"r":0},{"w":"50%","s":"CMS","x":1100,"r":-3},{"w":"50%","s":"CMS","x":1150,"r":-1},{"w":"50%","s":"CMS","x":1200,"r":1},{"w":"50%","s":"CMS","x":1250,"r":2},{"w":"50%","s":"CMS","x":1300,"r":-3},{"w":"50%","s":"CMS","x":1350,"r":2},{"w":"50%","s":"CMS","x":1400,"r":-12},{"w":"50%","s":"CMS","x":1450,"r":6},{"w":"50%","s":"CMS","x":1500,"r":0},{"w":"50%","s":"CMS","x":1550,"r":-3},{"w":"50%","s":"CMS","x":1600,"r":1},{"w":"50%","s":"CMS","x":1650,"r":15},{"w":"50%","s":"CMS","x":1700,"r":10},{"w":"50%","s":"CMS","x":1750,"r":-2},{"w":"50%","s":"CMS","x":1800,"r":-5},{"w":"50%","s":"CMS","x":1850,"r":6},{"w":"50%","s":"CMS","x":1900,"r":-12},{"w":"50%","s":"CMS","x":1950,"r":0},{"w":"50%","s":"CMS","x":2000,"r":3},{"w":"50%","s":"CMS","x":2050,"r":-2},{"w":"50%","s":"CMS","x":2100,"r":-2},
{"w":"50%","s":"RW","x":250,"r":32},{"w":"50%","s":"RW","x":300,"r":25},{"w":"50%","s":"RW","x":350,"r":17},{"w":"50%","s":"RW","x":400,"r":7},{"w":"50%","s":"RW","x":450,"r":1},{"w":"50%","s":"RW","x":500,"r":-4},{"w":"50%","s":"RW","x":550,"r":-3},{"w":"50%","s":"RW","x":600,"r":-4},{"w":"50%","s":"RW","x":650,"r":-2},{"w":"50%","s":"RW","x":700,"r":-4},{"w":"50%","s":"RW","x":750,"r":-3},{"w":"50%","s":"RW","x":800,"r":-2},{"w":"50%","s":"RW","x":850,"r":0},{"w":"50%","s":"RW","x":900,"r":4},{"w":"50%","s":"RW","x":950,"r":5},{"w":"50%","s":"RW","x":1000,"r":0},{"w":"50%","s":"RW","x":1050,"r":-3},{"w":"50%","s":"RW","x":1100,"r":-3},{"w":"50%","s":"RW","x":1150,"r":-1},{"w":"50%","s":"RW","x":1200,"r":-2},{"w":"50%","s":"RW","x":1250,"r":-3},{"w":"50%","s":"RW","x":1300,"r":0},{"w":"50%","s":"RW","x":1350,"r":-2},{"w":"50%","s":"RW","x":1400,"r":-10},{"w":"50%","s":"RW","x":1450,"r":-4},{"w":"50%","s":"RW","x":1500,"r":-5},{"w":"50%","s":"RW","x":1550,"r":-1},{"w":"50%","s":"RW","x":1600,"r":3},{"w":"50%","s":"RW","x":1650,"r":4},{"w":"50%","s":"RW","x":1700,"r":13},{"w":"50%","s":"RW","x":1750,"r":-22},{"w":"50%","s":"RW","x":1800,"r":3},{"w":"50%","s":"RW","x":1850,"r":-2},{"w":"50%","s":"RW","x":1900,"r":-18},{"w":"50%","s":"RW","x":1950,"r":-12},{"w":"50%","s":"RW","x":2000,"r":11},{"w":"50%","s":"RW","x":2050,"r":-18},{"w":"50%","s":"RW","x":2100,"r":-18}
]
},
"vconcat": [
{
  "width": 637, "height": 637,
  "resolve": {"axis": {"x": "independent", "y": "independent"}},
  "layer": [
    {
      "data": {"name": "main"},
      "mark": {"type": "line", "interpolate": "step-after", "strokeWidth": 2, "clip": true},
      "encoding": {
        "x": {"field": "x", "type": "quantitative", "scale": {"domain": [250, 2100], "nice": false, "zero": false},
              "axis": {"title": null, "labels": false, "grid": false, "tickSize": -5, "values": [300,400,500,600,700,800,900,1000,1100,1200,1300,1400,1500,1600,1700,1800,1900,2000]}},
        "y": {"field": "y", "type": "quantitative", "scale": {"type": "log", "domain": [0.0000503, 0.9], "nice": false},
              "axis": {"title": "dσ/dMᵢₙᵥ(Zt) (normalised )", "titleFontSize": 26, "titleAngle": 270, "titleX": -107, "titleY": 330, "titleAlign": "center", "titleBaseline": "middle",
                       "grid": false, "tickSize": -5, "labelPadding": 13,
                       "labelFontSize": {"condition": {"test": "datum.value == 0.0001 || datum.value == 0.001 || datum.value == 0.01 || datum.value == 0.1", "value": 28}, "value": 1},
                       "values": [0.00006,0.00007,0.00008,0.00009,0.0001,0.0002,0.0003,0.0004,0.0005,0.0006,0.0007,0.0008,0.0009,0.001,0.002,0.003,0.004,0.005,0.006,0.007,0.008,0.009,0.01,0.02,0.03,0.04,0.05,0.06,0.07,0.08,0.09,0.1,0.2,0.3,0.4,0.5,0.6,0.7,0.8],
                       "labelExpr": "datum.value == 0.0001 ? '10⁻⁴' : (datum.value == 0.001 || datum.value == 0.01 || datum.value == 0.1) ? format(datum.value, '.3f') : ''"}},
        "color": {"field": "w", "type": "nominal",
                  "scale": {"domain": ["1%", "10%", "30%", "50%"], "range": ["#1f5f8e", "#d04436", "#d2cf30", "#3d9a3d"]},
                  "legend": {"title": null, "orient": "none", "legendX": 11, "legendY": 12, "padding": 0, "symbolType": "square", "symbolSize": 784, "symbolStrokeWidth": 0, "rowPadding": 4, "labelOffset": 7, "labelFontSize": 21,
                             "labelExpr": "'Γₜ/Mₜ=' + datum.label",
                             "encode": {"symbols": {"update": {"fill": {"scale": "color", "field": "value"}, "fillOpacity": {"value": 1}, "strokeWidth": {"value": 0}}}}}},
        "strokeDash": {"field": "s", "type": "nominal",
                       "scale": {"domain": ["BW", "CMS", "RW"], "range": [[1, 0], [2, 2], [5, 3]]},
                       "legend": {"title": null, "orient": "none", "legendX": 335, "legendY": 12, "padding": 6, "strokeColor": "black", "symbolType": "M-1.3,0H1.3", "symbolSize": 1050, "symbolStrokeColor": "black", "symbolStrokeWidth": 1.5, "rowPadding": 6, "labelOffset": 12, "labelFontSize": 21,
                                  "labelExpr": "datum.label == 'BW' ? 'Breit Wigner' : datum.label == 'CMS' ? 'Complex mass scheme' : 'Running width scheme'",
                                  "encode": {"legend": {"update": {"strokeWidth": {"value": 2.5}}}}}}
      }
    },
    {
      "mark": {"type": "text", "align": "right", "baseline": "middle", "fontSize": 20},
      "encoding": {"x": {"datum": 2056, "type": "quantitative", "axis": {"orient": "top", "title": null, "labels": false, "grid": false, "tickSize": -5, "values": [300,400,500,600,700,800,900,1000,1100,1200,1300,1400,1500,1600,1700,1800,1900,2000]}},
                   "y": {"datum": 0.0985, "type": "quantitative", "axis": null}, "text": {"value": "pp→{Z,T}→Zttj"}}
    },
    {
      "mark": {"type": "text", "align": "right", "baseline": "middle", "fontSize": 20},
      "encoding": {"x": {"datum": 2056, "type": "quantitative", "axis": null},
                   "y": {"datum": 0.065, "type": "quantitative", "axis": {"orient": "right", "title": null, "labels": false, "grid": false, "tickSize": -5, "values": [0.00006,0.00007,0.00008,0.00009,0.0001,0.0002,0.0003,0.0004,0.0005,0.0006,0.0007,0.0008,0.0009,0.001,0.002,0.003,0.004,0.005,0.006,0.007,0.008,0.009,0.01,0.02,0.03,0.04,0.05,0.06,0.07,0.08,0.09,0.1,0.2,0.3,0.4,0.5,0.6,0.7,0.8]}},
                   "text": {"value": "Mₜ=1000GeV"}}
    }
  ]
},
{
  "width": 637, "height": 80.6,
  "view": {"stroke": "#aaaaaa", "strokeWidth": 2},
  "data": {"name": "ratio"},
  "transform": [{"filter": "datum.w == '1%'"}],
  "mark": {"type": "line", "interpolate": "step-after", "strokeWidth": 1.8, "clip": true},
  "encoding": {
    "x": {"field": "x", "type": "quantitative", "scale": {"domain": [250, 2100], "nice": false, "zero": false},
          "axis": {"title": null, "labels": false, "tickSize": -5, "values": [300,400,500,600,700,800,900,1000,1100,1200,1300,1400,1500,1600,1700,1800,1900,2000], "gridDash": [1, 3], "gridColor": "#888888", "gridOpacity": {"condition": {"test": "datum.value % 500 === 0", "value": 1}, "value": 0}}},
    "y": {"field": "r", "type": "quantitative", "scale": {"domain": [-100, 100], "nice": false},
          "axis": {"title": "Kʙᴡ−1 (%)", "titleFontSize": 18, "titleAngle": 0, "titleAlign": "left", "titleBaseline": "middle", "titleX": -147, "titleY": 40,
                   "values": [-50, 0, 50], "tickSize": -5, "labelFontSize": 20, "labelPadding": 11, "gridDash": [1, 3], "gridColor": "#888888"}},
    "color": {"field": "w", "type": "nominal", "scale": {"domain": ["1%", "10%", "30%", "50%"], "range": ["#1f5f8e", "#d04436", "#d2cf30", "#3d9a3d"]}, "legend": null},
    "strokeDash": {"field": "s", "type": "nominal", "scale": {"domain": ["BW", "CMS", "RW"], "range": [[1, 0], [2, 2], [5, 3]]}, "legend": null}
  }
},
{
  "width": 637, "height": 80.6,
  "view": {"stroke": "#aaaaaa", "strokeWidth": 2},
  "data": {"name": "ratio"},
  "transform": [{"filter": "datum.w == '10%'"}],
  "mark": {"type": "line", "interpolate": "step-after", "strokeWidth": 1.8, "clip": true},
  "encoding": {
    "x": {"field": "x", "type": "quantitative", "scale": {"domain": [250, 2100], "nice": false, "zero": false},
          "axis": {"title": null, "labels": false, "tickSize": -5, "values": [300,400,500,600,700,800,900,1000,1100,1200,1300,1400,1500,1600,1700,1800,1900,2000], "gridDash": [1, 3], "gridColor": "#888888", "gridOpacity": {"condition": {"test": "datum.value % 500 === 0", "value": 1}, "value": 0}}},
    "y": {"field": "r", "type": "quantitative", "scale": {"domain": [-100, 100], "nice": false},
          "axis": {"title": "Kʙᴡ−1 (%)", "titleFontSize": 18, "titleAngle": 0, "titleAlign": "left", "titleBaseline": "middle", "titleX": -147, "titleY": 40,
                   "values": [-50, 0, 50], "tickSize": -5, "labelFontSize": 20, "labelPadding": 11, "gridDash": [1, 3], "gridColor": "#888888"}},
    "color": {"field": "w", "type": "nominal", "scale": {"domain": ["1%", "10%", "30%", "50%"], "range": ["#1f5f8e", "#d04436", "#d2cf30", "#3d9a3d"]}, "legend": null},
    "strokeDash": {"field": "s", "type": "nominal", "scale": {"domain": ["BW", "CMS", "RW"], "range": [[1, 0], [2, 2], [5, 3]]}, "legend": null}
  }
},
{
  "width": 637, "height": 80.6,
  "view": {"stroke": "#aaaaaa", "strokeWidth": 2},
  "data": {"name": "ratio"},
  "transform": [{"filter": "datum.w == '30%'"}],
  "mark": {"type": "line", "interpolate": "step-after", "strokeWidth": 1.8, "clip": true},
  "encoding": {
    "x": {"field": "x", "type": "quantitative", "scale": {"domain": [250, 2100], "nice": false, "zero": false},
          "axis": {"title": null, "labels": false, "tickSize": -5, "values": [300,400,500,600,700,800,900,1000,1100,1200,1300,1400,1500,1600,1700,1800,1900,2000], "gridDash": [1, 3], "gridColor": "#888888", "gridOpacity": {"condition": {"test": "datum.value % 500 === 0", "value": 1}, "value": 0}}},
    "y": {"field": "r", "type": "quantitative", "scale": {"domain": [-100, 100], "nice": false},
          "axis": {"title": "Kʙᴡ−1 (%)", "titleFontSize": 18, "titleAngle": 0, "titleAlign": "left", "titleBaseline": "middle", "titleX": -147, "titleY": 40,
                   "values": [-50, 0, 50], "tickSize": -5, "labelFontSize": 20, "labelPadding": 11, "gridDash": [1, 3], "gridColor": "#888888"}},
    "color": {"field": "w", "type": "nominal", "scale": {"domain": ["1%", "10%", "30%", "50%"], "range": ["#1f5f8e", "#d04436", "#d2cf30", "#3d9a3d"]}, "legend": null},
    "strokeDash": {"field": "s", "type": "nominal", "scale": {"domain": ["BW", "CMS", "RW"], "range": [[1, 0], [2, 2], [5, 3]]}, "legend": null}
  }
},
{
  "width": 637, "height": 80.6,
  "view": {"stroke": "#aaaaaa", "strokeWidth": 2},
  "data": {"name": "ratio"},
  "transform": [{"filter": "datum.w == '50%'"}],
  "mark": {"type": "line", "interpolate": "step-after", "strokeWidth": 1.8, "clip": true},
  "encoding": {
    "x": {"field": "x", "type": "quantitative", "scale": {"domain": [250, 2100], "nice": false, "zero": false},
          "axis": {"title": "Mᵢₙᵥ(Zt₁) (GeV)", "titleFontSize": 30, "titlePadding": 10, "labelFontSize": 22, "labelPadding": 15, "format": "d", "tickSize": -5,
                   "labelExpr": "datum.value % 500 === 0 ? datum.label : ''",
                   "values": [300,400,500,600,700,800,900,1000,1100,1200,1300,1400,1500,1600,1700,1800,1900,2000], "gridDash": [1, 3], "gridColor": "#888888", "gridOpacity": {"condition": {"test": "datum.value % 500 === 0", "value": 1}, "value": 0}}},
    "y": {"field": "r", "type": "quantitative", "scale": {"domain": [-100, 100], "nice": false},
          "axis": {"title": "Kʙᴡ−1 (%)", "titleFontSize": 18, "titleAngle": 0, "titleAlign": "left", "titleBaseline": "middle", "titleX": -147, "titleY": 40,
                   "values": [-50, 0, 50], "tickSize": -5, "labelFontSize": 20, "labelPadding": 11, "gridDash": [1, 3], "gridColor": "#888888"}},
    "color": {"field": "w", "type": "nominal", "scale": {"domain": ["1%", "10%", "30%", "50%"], "range": ["#1f5f8e", "#d04436", "#d2cf30", "#3d9a3d"]}, "legend": null},
    "strokeDash": {"field": "s", "type": "nominal", "scale": {"domain": ["BW", "CMS", "RW"], "range": [[1, 0], [2, 2], [5, 3]]}, "legend": null}
  }
}
]
}
